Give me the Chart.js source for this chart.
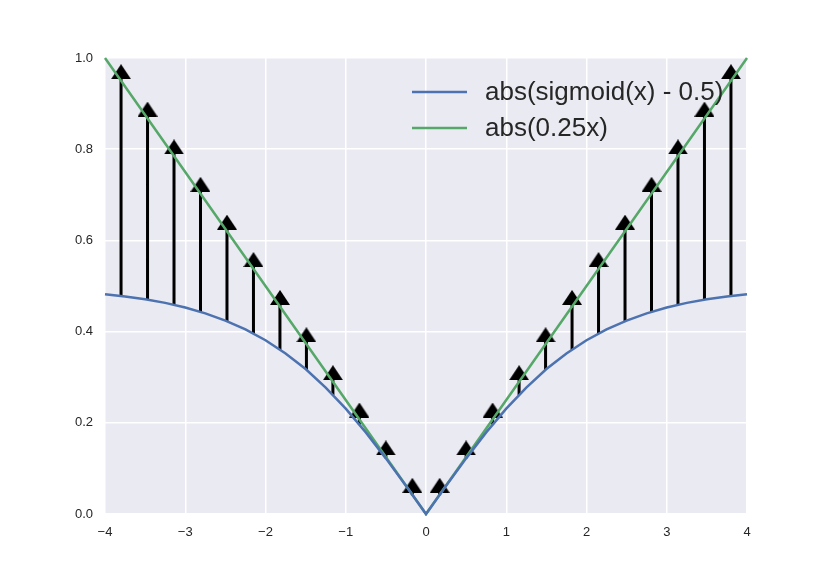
<!DOCTYPE html>
<html>
<head>
<meta charset="utf-8">
<script src="https://cdn.jsdelivr.net/npm/chart.js@4"></script>
<style>
  html, body { margin: 0; padding: 0; background: #fff; }
</style>
</head>
<body>
<canvas id="myChart" width="830" height="571"></canvas>
<script>
// abs(sigmoid(x) - 0.5)
const curveX = [-4, -3.75, -3.5, -3.25, -3, -2.75, -2.5, -2.25, -2, -1.75, -1.5, -1.25, -1, -0.75, -0.5, -0.25,
                0, 0.25, 0.5, 0.75, 1, 1.25, 1.5, 1.75, 2, 2.25, 2.5, 2.75, 3, 3.25, 3.5, 3.75, 4];
const sigmoidY = [0.482, 0.477, 0.471, 0.463, 0.453, 0.440, 0.424, 0.405, 0.381, 0.352, 0.318, 0.277, 0.231, 0.179, 0.122, 0.062,
                  0, 0.062, 0.122, 0.179, 0.231, 0.277, 0.318, 0.352, 0.381, 0.405, 0.424, 0.440, 0.453, 0.463, 0.471, 0.477, 0.482];

// abs(0.25x), the green V
const linearX = [-4, 0, 4];
const linearY = [1, 0, 1];

// arrows: x position, start on blue curve, head centre just above green line
const arrowX = [-3.8, -3.47, -3.14, -2.81, -2.48, -2.15, -1.82, -1.49, -1.16, -0.83, -0.50, -0.17,
                0.17, 0.50, 0.83, 1.16, 1.49, 1.82, 2.15, 2.48, 2.81, 3.14, 3.47, 3.8];
const arrowBase = [0.478, 0.470, 0.459, 0.443, 0.423, 0.396, 0.360, 0.316, 0.261, 0.196, 0.122, 0.041,
                   0.041, 0.122, 0.196, 0.261, 0.316, 0.360, 0.396, 0.423, 0.443, 0.459, 0.470, 0.478];
const arrowHead = [0.970, 0.888, 0.805, 0.723, 0.640, 0.558, 0.475, 0.393, 0.310, 0.228, 0.145, 0.063,
                   0.063, 0.145, 0.228, 0.310, 0.393, 0.475, 0.558, 0.640, 0.723, 0.805, 0.888, 0.970];

const xTicks = [-4, -3, -2, -1, 0, 1, 2, 3, 4];
const yTicks = [0, 0.2, 0.4, 0.6, 0.8, 1.0];
const legendLabels = ['abs(sigmoid(x) - 0.5)', 'abs(0.25x)'];

const BLUE = '#4C72B0';
const GREEN = '#55A868';

// stems as one line dataset, broken with null points
const stemData = [];
arrowX.forEach((x, i) => {
    stemData.push({x: x, y: arrowBase[i]});
    stemData.push({x: x, y: arrowHead[i]});
    stemData.push({x: x, y: null});
});

// arrow head sprite: wider than tall, like matplotlib's arrow heads
const head = document.createElement('canvas');
head.width = 20;
head.height = 15;
const hctx = head.getContext('2d');
hctx.fillStyle = '#000';
hctx.beginPath();
hctx.moveTo(10, 0);
hctx.lineTo(20, 15);
hctx.lineTo(0, 15);
hctx.closePath();
hctx.fill();

const bgPlugin = {
    id: 'plotBg',
    beforeDraw(chart) {
        const {ctx, chartArea: a} = chart;
        ctx.save();
        ctx.fillStyle = '#EAEAF2';
        ctx.fillRect(a.left, a.top, a.right - a.left, a.bottom - a.top);
        ctx.restore();
    }
};

// legend sits inside the plot, top right, no frame
const legendPlugin = {
    id: 'innerLegend',
    afterDraw(chart) {
        const {ctx, chartArea: a} = chart;
        const colors = [BLUE, GREEN];
        ctx.save();
        ctx.font = '26px "Liberation Sans", Arial, sans-serif';
        ctx.textBaseline = 'middle';
        legendLabels.forEach((label, i) => {
            const y = a.top + 34 + i * 36;
            ctx.strokeStyle = colors[i];
            ctx.lineWidth = 2.5;
            ctx.beginPath();
            ctx.moveTo(a.right - 335, y);
            ctx.lineTo(a.right - 280, y);
            ctx.stroke();
            ctx.fillStyle = '#262626';
            ctx.fillText(label, a.right - 262, y + 1);
        });
        ctx.restore();
    }
};

const ctx = document.getElementById('myChart').getContext('2d');
const myChart = new Chart(ctx, {
    type: 'line',
    data: {
        datasets: [
            {
                label: legendLabels[0],
                data: curveX.map((x, i) => ({x: x, y: sigmoidY[i]})),
                borderColor: BLUE,
                borderWidth: 2.5,
                pointRadius: 0,
                tension: 0
            },
            {
                label: legendLabels[1],
                data: linearX.map((x, i) => ({x: x, y: linearY[i]})),
                borderColor: GREEN,
                borderWidth: 2.5,
                pointRadius: 0,
                tension: 0
            },
            {
                label: 'heads',
                data: arrowX.map((x, i) => ({x: x, y: arrowHead[i]})),
                showLine: false,
                pointStyle: head,
                pointRadius: 10
            },
            {
                label: 'stems',
                data: stemData,
                borderColor: '#000',
                borderWidth: 3,
                pointRadius: 0,
                spanGaps: false
            }
        ]
    },
    options: {
        responsive: false,
        animation: false,
        clip: false,
        layout: {padding: {top: 58, right: 83, left: 0, bottom: 0}},
        plugins: {legend: {display: false}, tooltip: {enabled: false}},
        scales: {
            x: {
                type: 'linear',
                min: -4, max: 4,
                afterBuildTicks: s => { s.ticks = xTicks.map(v => ({value: v})); },
                afterFit: s => { s.height = 57; },
                grid: {color: '#fff', lineWidth: 1.5, drawTicks: false},
                border: {display: false},
                ticks: {
                    padding: 11,
                    color: '#262626',
                    font: {family: '"Liberation Sans", Arial, sans-serif', size: 13},
                    callback: v => String(v).replace('-', '\u2212')
                }
            },
            y: {
                min: 0, max: 1,
                afterBuildTicks: s => { s.ticks = yTicks.map(v => ({value: v})); },
                afterFit: s => { s.width = 105; },
                grid: {color: '#fff', lineWidth: 1.5, drawTicks: false},
                border: {display: false},
                ticks: {
                    padding: 12,
                    color: '#262626',
                    font: {family: '"Liberation Sans", Arial, sans-serif', size: 13},
                    callback: v => v.toFixed(1)
                }
            }
        }
    },
    plugins: [bgPlugin, legendPlugin]
});
</script>
</body>
</html>
